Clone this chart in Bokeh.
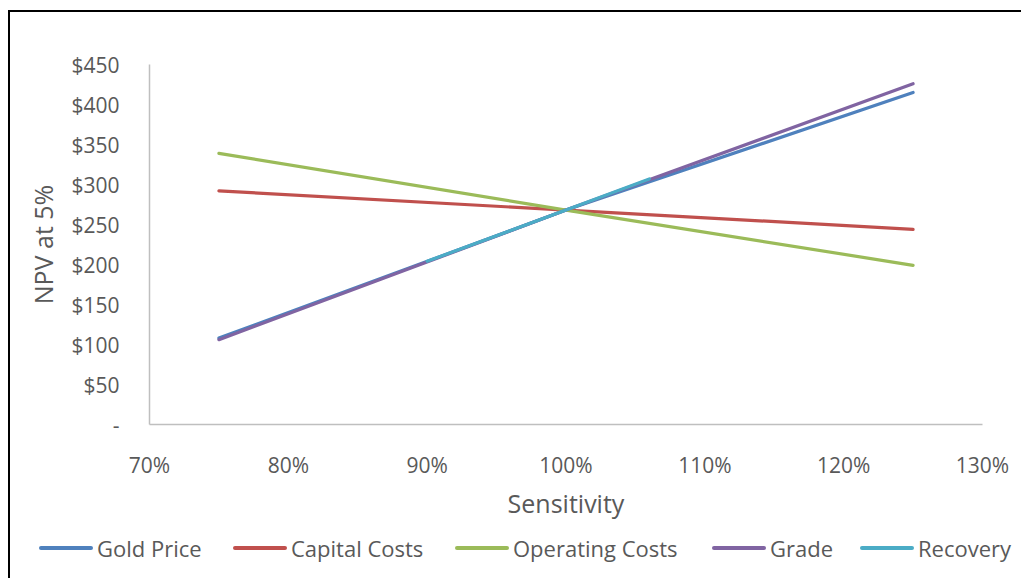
from bokeh.plotting import figure
from bokeh.layouts import column
from bokeh.models import Div, CustomJSTickFormatter, NumeralTickFormatter, FixedTicker, Range1d
from bokeh.embed import file_html
from bokeh.resources import INLINE

# Data
sens = [0.75, 1.00, 1.25]
gold_price = [108, 268, 415]
capital_costs = [292, 268, 244]
operating_costs = [339, 268, 199]
grade = [106, 268, 426]
recovery_x = [0.90, 1.00, 1.06]
recovery = [204, 268, 307]

series_names = ["Gold Price", "Capital Costs", "Operating Costs", "Grade", "Recovery"]
series_colors = ["#4F81BD", "#C0504D", "#9BBB59", "#8064A2", "#4BACC6"]

x_ticks = [0.7, 0.8, 0.9, 1.0, 1.1, 1.2, 1.3]
y_ticks = [0, 50, 100, 150, 200, 250, 300, 350, 400, 450]

FONT = "Open Sans"
GREY = "#595959"

p = figure(width=1011, height=512, output_backend="svg", toolbar_location=None,
           x_range=Range1d(0.7, 1.3), y_range=Range1d(0, 450),
           min_border_left=139, min_border_right=39, min_border_top=52, min_border_bottom=100)
p.outline_line_color = None
p.xgrid.visible = False
p.ygrid.visible = False

p.xaxis.ticker = FixedTicker(ticks=x_ticks)
p.yaxis.ticker = FixedTicker(ticks=y_ticks)
p.xaxis.formatter = NumeralTickFormatter(format="0%")
p.yaxis.formatter = CustomJSTickFormatter(code="return tick == 0 ? '-' : '$' + tick;")

for ax in (p.xaxis, p.yaxis):
    ax.axis_line_color = "#BFBFBF"
    ax.axis_line_width = 1.5
    ax.major_tick_line_color = None
    ax.minor_tick_line_color = None
    ax.major_label_text_font = FONT
    ax.major_label_text_font_size = "21px"
    ax.major_label_text_color = GREY
    ax.axis_label_text_font = FONT
    ax.axis_label_text_font_size = "25px"
    ax.axis_label_text_color = GREY
    ax.axis_label_text_font_style = "normal"

p.xaxis.major_label_standoff = 20
p.yaxis.major_label_standoff = 24
p.xaxis.axis_label = "Sensitivity"
p.yaxis.axis_label = "NPV at 5%"
p.xaxis.axis_label_standoff = 4
p.yaxis.axis_label_standoff = 8

xs_list = [sens, sens, sens, sens, recovery_x]
ys_list = [gold_price, capital_costs, operating_costs, grade, recovery]
for xs, ys, col in zip(xs_list, ys_list, series_colors):
    p.line(xs, ys, line_color=col, line_width=3.2, line_cap="round", line_join="round")

# Legend strip below the chart (HTML)
glyph_left = [29, 223, 445, 702, 850]
parts = []
for name, col, gx in zip(series_names, series_colors, glyph_left):
    parts.append(
        f'<div style="position:absolute;left:{gx}px;top:22px;width:54px;height:4px;'
        f'border-radius:2px;background:{col};"></div>'
        f'<div style="position:absolute;left:{gx + 58}px;top:9px;line-height:30px;'
        f'white-space:nowrap;">{name}</div>'
    )
html = (f'<div style="position:relative;width:1011px;height:54px;font-family:\'{FONT}\';'
        f'font-size:22px;color:{GREY};">' + "".join(parts) + '</div>')
leg = Div(text=html, width=1011, height=54, margin=0)

layout = column(p, leg, spacing=0)
layout.styles = {"margin-left": "8px", "margin-top": "10px",
                 "border-left": "2px solid black", "border-top": "2px solid black"}

open("out.html", "w").write(file_html(layout, INLINE))
